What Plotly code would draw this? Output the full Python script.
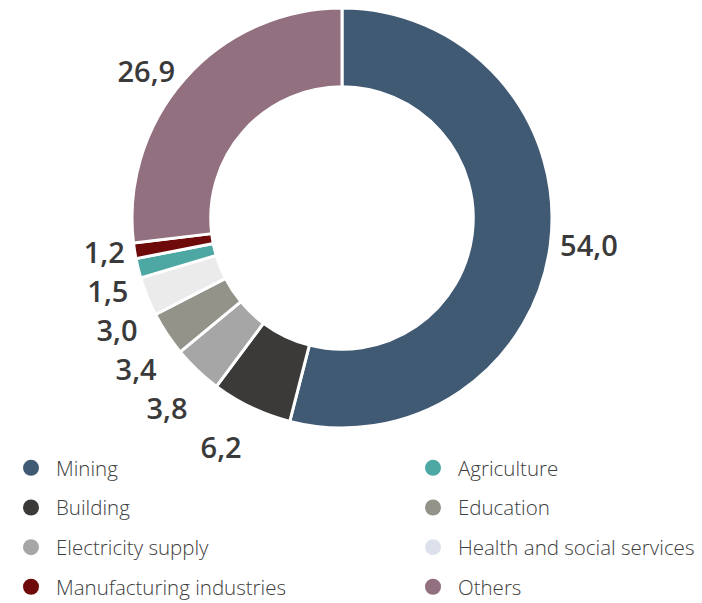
import plotly.graph_objects as go

categories = ["Mining", "Building", "Electricity supply", "Education",
              "Health and social services", "Agriculture",
              "Manufacturing industries", "Others"]
values = [54.0, 6.2, 3.8, 3.4, 3.0, 1.5, 1.2, 26.9]
slice_colors = ["#415A74", "#3B3A38", "#A6A6A6", "#93938A",
                "#EBEBEB", "#4DA8A4", "#6E0A0A", "#92707F"]
legend_colors = {"Mining": "#415A74", "Building": "#3B3A38",
                 "Electricity supply": "#A6A6A6", "Education": "#93938A",
                 "Health and social services": "#DDE1EC", "Agriculture": "#4DA8A4",
                 "Manufacturing industries": "#6E0A0A", "Others": "#92707F"}
left_column = ["Mining", "Building", "Electricity supply", "Manufacturing industries"]
right_column = ["Agriculture", "Education", "Health and social services", "Others"]

labels_text = [f"{v:.1f}".replace(".", ",") for v in values]

fig = go.Figure()
fig.add_trace(go.Pie(
    labels=categories, values=values, text=labels_text,
    textinfo="text", textposition="outside",
    hole=0.625, sort=False, direction="clockwise", rotation=0,
    marker=dict(colors=slice_colors, line=dict(color="white", width=3)),
    outsidetextfont=dict(family="Open Sans", size=29, color="#3A3A3A", weight=600),
    domain=dict(x=[131/702, 553/702], y=[1-428/603, 1-8/603]),
    showlegend=False, hoverinfo="label+value",
))

for col, legname in ((left_column, "legend"), (right_column, "legend2")):
    for name in col:
        fig.add_trace(go.Scatter(
            x=[None], y=[None], mode="markers", name=name,
            marker=dict(symbol="circle", size=22, color=legend_colors[name]),
            legend=legname, legendgroup=name, showlegend=True,
        ))

legend_font = dict(family="Open Sans", size=20.5, color="#404040", weight=300)
common = dict(yanchor="top", y=1-448/603, xanchor="left", font=legend_font,
              traceorder="grouped", tracegroupgap=10, itemwidth=40,
              itemsizing="trace", bgcolor="rgba(0,0,0,0)")
fig.update_layout(
    width=702, height=603,
    margin=dict(l=0, r=0, t=0, b=0, autoexpand=False),
    paper_bgcolor="white", plot_bgcolor="white",
    xaxis=dict(visible=False), yaxis=dict(visible=False),
    legend=dict(x=6/702, **common),
    legend2=dict(x=408/702, **common),
)

fig.write_html("out.html",
               config={"displayModeBar": False},
               post_script="var s=document.createElement('style');"
                           "s.innerHTML='html,body{margin:0;padding:0;overflow:hidden}"
                           " path.textline{display:none}';"
                           "document.head.appendChild(s);")
